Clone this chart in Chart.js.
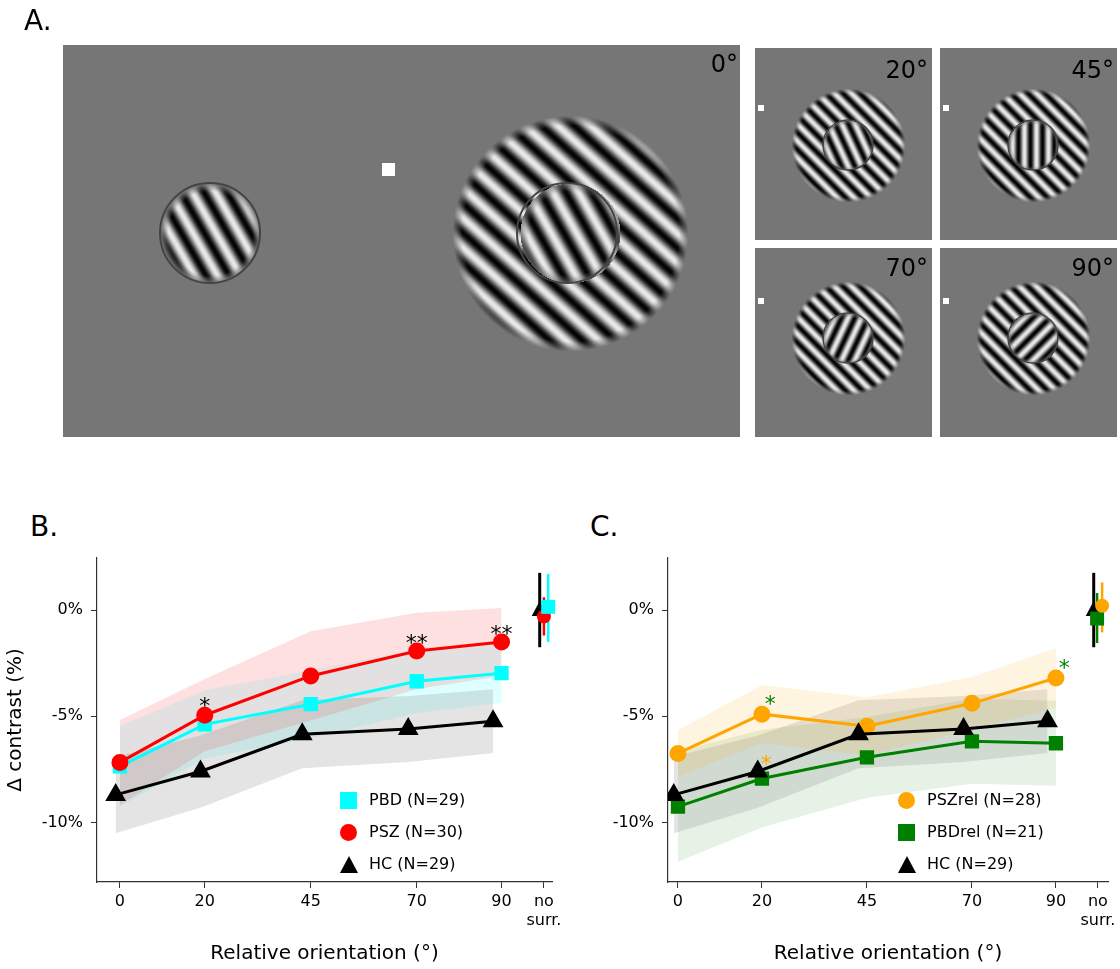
<!DOCTYPE html>
<html><head><meta charset="utf-8">
<script src="https://cdn.jsdelivr.net/npm/chart.js"></script>
<style>
body{margin:0;width:1120px;height:969px;background:#fff;position:relative;overflow:hidden;font-family:"DejaVu Sans",sans-serif}
.lbl{position:absolute;font-size:28px;color:#000}
.cw{position:absolute}
.leg{position:absolute;font-size:16px;line-height:32px;color:#000}
.leg div{display:flex;align-items:center}
.mk{width:17px;height:17px;margin-right:12px;display:inline-block}
</style></head><body>
<canvas id="A" width="1120" height="450" style="position:absolute;left:0;top:0"></canvas>
<div class="lbl" style="left:24px;top:4px">A.</div>
<div class="lbl" style="left:30px;top:510px">B.</div>
<div class="lbl" style="left:590px;top:510px">C.</div>
<div class="cw" style="left:0;top:540px;width:570px;height:430px"><canvas id="B"></canvas></div>
<div class="cw" style="left:560px;top:540px;width:560px;height:430px"><canvas id="C"></canvas></div>
<div class="leg" style="left:340px;top:784px">
<div><span class="mk" style="background:#00ffff"></span>PBD (N=29)</div>
<div><span class="mk" style="background:#ff0000;border-radius:50%"></span>PSZ (N=30)</div>
<div><span class="mk" style="width:0;height:0;border-left:9px solid transparent;border-right:9px solid transparent;border-bottom:17px solid #000;margin-right:11px"></span>HC (N=29)</div>
</div>
<div class="leg" style="left:898px;top:784px">
<div><span class="mk" style="background:#ffa500;border-radius:50%"></span>PSZrel (N=28)</div>
<div><span class="mk" style="background:#008000"></span>PBDrel (N=21)</div>
<div><span class="mk" style="width:0;height:0;border-left:9px solid transparent;border-right:9px solid transparent;border-bottom:17px solid #000;margin-right:11px"></span>HC (N=29)</div>
</div>
<script>
// ---- data ----
const orient = [0, 20, 45, 70, 90];
const xTickVals = [0, 20, 45, 70, 90, 100];
const xTickLabels = ["0", "20", "45", "70", "90", ["no", "surr."]];
const yTickVals = [0, -5, -10];
const yTickLabels = ["0%", "-5%", "-10%"];
const hcMean = [-8.7, -7.6, -5.85, -5.6, -5.23];
const hcHalf = [1.8, 1.7, 1.6, 1.55, 1.5];
const pszMean = [-7.17, -4.95, -3.1, -1.93, -1.5];
const pszHalf = [2.0, 1.7, 2.1, 1.8, 1.6];
const pbdMean = [-7.36, -5.38, -4.43, -3.35, -2.97];
const pbdHalf = [1.9, 1.6, 1.6, 1.5, 1.4];
const pszrelMean = [-6.75, -4.9, -5.47, -4.39, -3.2];
const pszrelHalf = [1.1, 1.36, 1.37, 1.24, 1.4];
const pbdrelMean = [-9.25, -7.93, -6.93, -6.18, -6.27];
const pbdrelHalf = [2.6, 2.3, 1.9, 2.0, 2.0];
const hcJitter = [-1, -1, -2, -2, -2];
// no-surround: [colour, x, mean, errLow, errHigh]
const noSurrB = [["#000",99,0,-1.75,1.75],["#ff0000",100,-0.3,-1.2,0.6],["#00ffff",101,0.15,-1.5,1.7]];
const noSurrC = [["#000",99,0,-1.75,1.75],["#008000",99.8,-0.4,-1.55,0.8],["#ffa500",101,0.2,-1.05,1.3]];
const starsB = [["*",20,-4.2,"#000"],["**",70,-1.2,"#000"],["**",90,-0.8,"#000"]];
const starsC = [["*",22,-4.1,"#008000"],["*",21,-6.9,"#ffa500"],["*",92,-2.4,"#008000"]];

// ---- panel A ----
const A = document.getElementById('A'), g = A.getContext('2d');
const img = g.createImageData(1120, 450);
const GRAY = 118;
function px(x,y,v){const i=(y*1120+x)*4;img.data[i]=img.data[i+1]=img.data[i+2]=v;img.data[i+3]=255;}
for(let i=0;i<img.data.length;i++)img.data[i]=255;
function rect(x0,y0,x1,y1){for(let y=y0;y<y1;y++)for(let x=x0;x<x1;x++)px(x,y,GRAY);}
function grating(cx,cy,r,rin,period,angSur,angCen,edge){
  for(let y=Math.floor(cy-r-2);y<cy+r+2;y++)for(let x=Math.floor(cx-r-2);x<cx+r+2;x++){
    const d=Math.hypot(x-cx,y-cy); if(d>r)continue;
    const a=(d<rin?angCen:angSur)*Math.PI/180;
    const p=((x-cx)*Math.cos(a)+(y-cy)*Math.sin(a))/period;
    let env=1; if(d>r-edge) env=(r-d)/edge;
    if(rin>0 && d<rin && d>rin-edge*0.8) env=Math.min(env,(rin-d)/(edge*0.8)*0.7+0.3);
    px(x,y,Math.round(GRAY+115*env*Math.sin(2*Math.PI*p)));
  }
}
rect(63,45,740,437);
rect(755,48,932,240);rect(940,48,1117,240);rect(755,248,932,437);rect(940,248,1117,437);
grating(210,233,50,0,20,-30,-30,8);
grating(570,233,118,50,22,-48,-30,10);
const sp=[[848,145,20],[1033,145,45],[848,338,70],[1033,338,90]];
sp.forEach(s=>grating(s[0],s[1],57,25,12,-45,-45+s[2],5));
g.putImageData(img,0,0);
g.strokeStyle='#444';g.lineWidth=2;
[[210,233,50],[567,233,50]].forEach(c=>{g.beginPath();g.arc(c[0],c[1],c[2],0,7);g.stroke();});
g.lineWidth=1.5;sp.forEach(s=>{g.beginPath();g.arc(s[0],s[1],25,0,7);g.stroke();});
g.fillStyle='#fff';g.fillRect(382,163,13,13);
sp.forEach(s=>g.fillRect(s[0]-90,s[1]-40,6,6));
g.fillStyle='#000';g.font='24px "DejaVu Sans"';g.textAlign='right';
g.fillText('0°',738,72);
[['20°',928,78],['45°',1114,78],['70°',928,276],['90°',1114,276]].forEach(t=>g.fillText(t[0],t[1],t[2]));

// ---- charts ----
function xy(xs,ys,off){return xs.map((x,i)=>({x:x+(off?off[i]:0),y:ys[i]}));}
function band(mean,half,sign){return mean.map((m,i)=>m+sign*half[i]);}
function bandSets(mean,half,col,xOff){
  return [
   {data:xy(orient,band(mean,half,1),xOff),borderWidth:0,pointRadius:0,fill:false,showLine:true,order:10},
   {data:xy(orient,band(mean,half,-1),xOff),borderWidth:0,pointRadius:0,fill:'-1',backgroundColor:col,showLine:true,order:10}];
}
function line(mean,col,style,r,xOff){
  return {data:xy(orient,mean,xOff),borderColor:col,backgroundColor:col,borderWidth:3,pointStyle:style,pointRadius:r,pointHoverRadius:r,showLine:true,fill:false,order:1};
}
const overlay={id:'ov',afterDatasetsDraw(c,a,o){
  const ctx=c.ctx,X=c.scales.x,Y=c.scales.y;
  o.ns.forEach(e=>{ctx.strokeStyle=e[0];ctx.lineWidth=e[0]==='#000'?3:2.5;const x=X.getPixelForValue(e[1]);
    ctx.beginPath();ctx.moveTo(x,Y.getPixelForValue(e[3]));ctx.lineTo(x,Y.getPixelForValue(e[4]));ctx.stroke();});
  o.ns.forEach((e,k)=>{const x=X.getPixelForValue(e[1]),y=Y.getPixelForValue(e[2]);ctx.fillStyle=e[0];ctx.beginPath();
    if(k===0){ctx.moveTo(x,y-9);ctx.lineTo(x+8,y+6);ctx.lineTo(x-8,y+6);ctx.closePath();}
    else if(o.shapes[k]==='c'){ctx.arc(x,y,7,0,7);} else {ctx.rect(x-7,y-7,14,14);} ctx.fill();});
  ctx.font='22px "DejaVu Sans"';ctx.textAlign='center';
  o.stars.forEach(s=>{ctx.fillStyle=s[3];ctx.fillText(s[0],X.getPixelForValue(s[1]),Y.getPixelForValue(s[2])+14);});
}};
function makeChart(id,sets,xmin,xmax,yW,rp,ytitle,ns,shapes,stars){
  new Chart(document.getElementById(id),{type:'scatter',data:{datasets:sets},plugins:[overlay],
   options:{responsive:true,maintainAspectRatio:false,animation:false,
    layout:{padding:{top:18,right:rp,left:0,bottom:0}},
    plugins:{legend:{display:false},tooltip:{enabled:false},ov:{ns,shapes,stars}},
    scales:{
     x:{type:'linear',min:xmin,max:xmax,afterBuildTicks:s=>{s.ticks=xTickVals.map(v=>({value:v}));},
       afterFit:s=>{s.height=88;},
       ticks:{color:'#000',font:{size:16,family:'DejaVu Sans'},padding:4,callback:(v,i)=>xTickLabels[i]},
       grid:{drawOnChartArea:false,drawTicks:true,tickLength:6,color:'#333'},border:{color:'#333',width:1.2},
       title:{display:true,text:'Relative orientation (°)',color:'#000',font:{size:20,family:'DejaVu Sans'},padding:{top:10}}},
     y:{min:-12.8,max:2.45,afterBuildTicks:s=>{s.ticks=yTickVals.map(v=>({value:v}));},
       afterFit:s=>{s.width=yW;},
       ticks:{color:'#000',font:{size:16,family:'DejaVu Sans'},padding:8,callback:(v,i)=>yTickLabels[i]},
       grid:{drawOnChartArea:false,drawTicks:true,tickLength:6,color:'#333'},border:{color:'#333',width:1.2},
       title:{display:!!ytitle,text:ytitle,color:'#000',font:{size:20,family:'DejaVu Sans'},padding:{bottom:6}}}
    }}});
}
const gray='rgba(120,120,120,0.2)';
makeChart('B',[
  ...bandSets(pszMean,pszHalf,'rgba(255,0,0,0.12)'),
  ...bandSets(hcMean,hcHalf,gray,hcJitter),
  ...bandSets(pbdMean,pbdHalf,'rgba(0,255,255,0.13)'),
  line(hcMean,'#000','triangle',9,hcJitter),
  line(pszMean,'#ff0000','circle',7),
  line(pbdMean,'#00ffff','rect',8)
],-5.4,101.9,97,18,'Δ contrast (%)',noSurrB,['t','c','r'],starsB);
makeChart('C',[
  ...bandSets(pszrelMean,pszrelHalf,'rgba(255,165,0,0.12)'),
  ...bandSets(hcMean,hcHalf,gray,hcJitter),
  ...bandSets(pbdrelMean,pbdrelHalf,'rgba(0,128,0,0.1)'),
  line(hcMean,'#000','triangle',9,hcJitter),
  line(pbdrelMean,'#008000','rect',8),
  line(pszrelMean,'#ffa500','circle',7)
],-2.37,102.4,108,10,'',noSurrC,['t','r','c'],starsC);
</script>
</body></html>
